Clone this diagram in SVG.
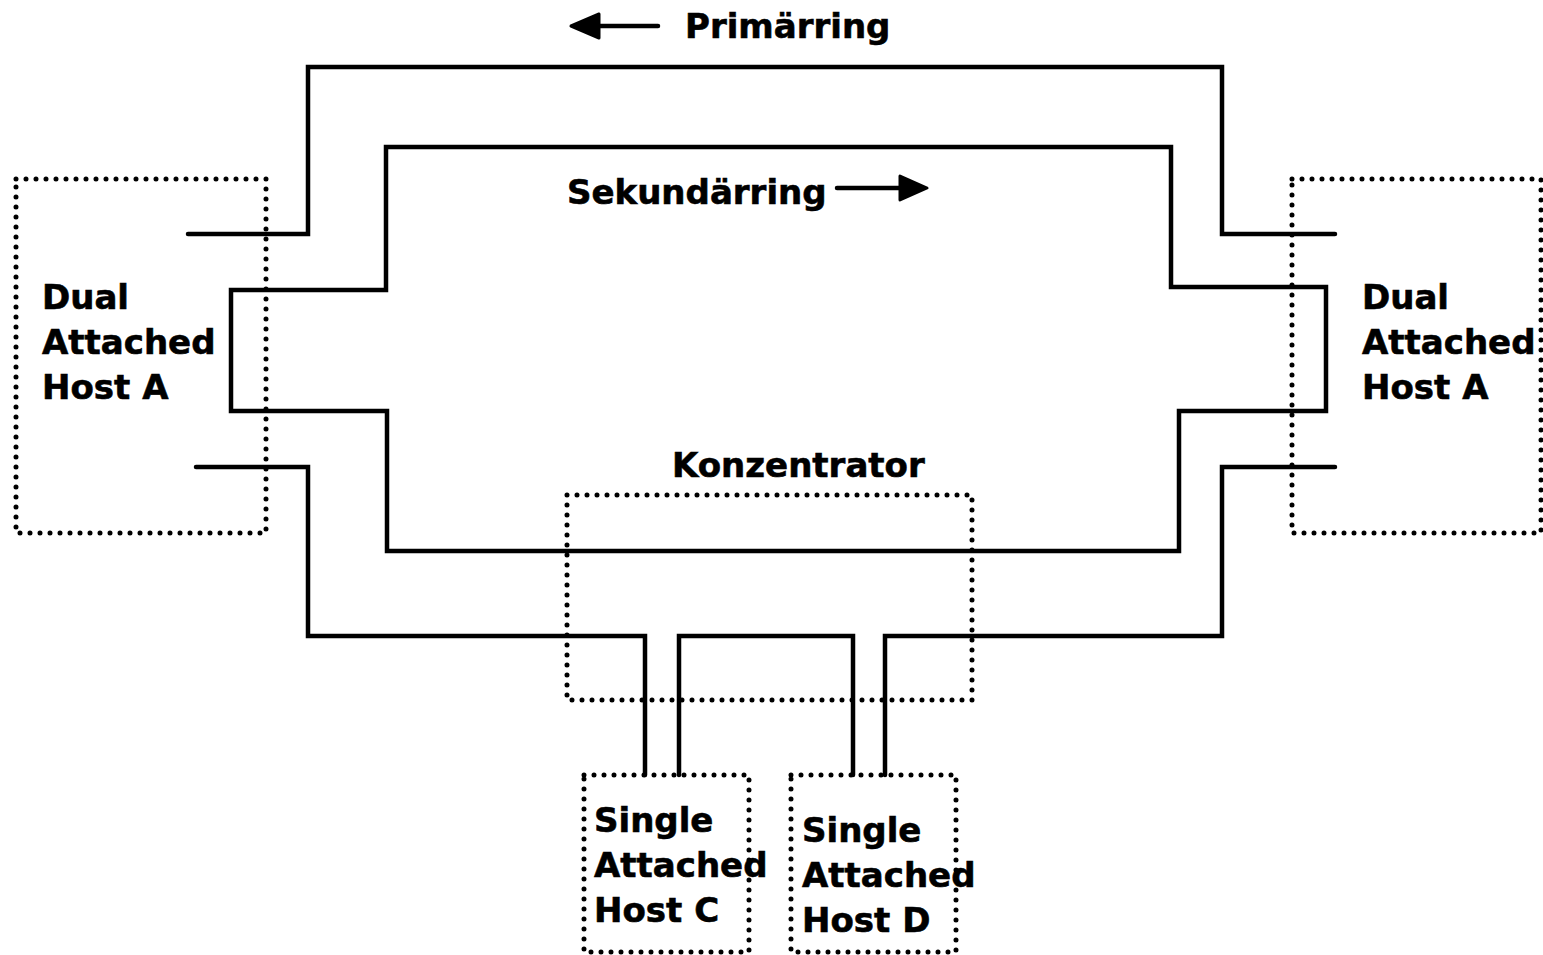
<svg xmlns="http://www.w3.org/2000/svg" width="1543" height="955" viewBox="0 0 1543 955">
<style>
.ring{fill:none;stroke:#000;stroke-width:4.5;stroke-linejoin:miter;stroke-linecap:round}
.box{fill:none;stroke:#000;stroke-width:5;stroke-dasharray:0 10;stroke-linecap:round}
.t{font-family:"DejaVu Sans",Verdana,sans-serif;font-weight:bold;font-size:34px;fill:#000;stroke:#000;stroke-width:0.6}
</style>
<rect width="1543" height="955" fill="#fff"/>
<g id="connectors">
<path class="ring" d="M188,234 H308 V67 H1222 V234 H1335"/>
<path class="ring" d="M196,467 H308 V636 H645 V775"/>
<path class="ring" d="M679,775 V636 H853 V775"/>
<path class="ring" d="M885,775 V636 H1222 V467 H1335"/>
<path class="ring" d="M386,147 H1171 V287 H1326 V411 H1179 V551 H387 V411 H231 V290 H386 Z"/>
<g id="arrow-primaer">
<line x1="658" y1="26" x2="596" y2="26" stroke="#000" stroke-width="4.5" stroke-linecap="round"/>
<path d="M571,26 L599,14 L599,38 Z" fill="#000" stroke="#000" stroke-width="3" stroke-linejoin="round"/>
</g>
<g id="arrow-sekundaer">
<line x1="837" y1="188" x2="902" y2="188" stroke="#000" stroke-width="4.5" stroke-linecap="round"/>
<path d="M927,188 L900,176 L900,200 Z" fill="#000" stroke="#000" stroke-width="3" stroke-linejoin="round"/>
</g>
</g>
<g id="label-primaer"><text class="t" x="685" y="38">Primärring</text></g>
<g id="label-sekundaer"><text class="t" x="567" y="204">Sekundärring</text></g>
<g id="host-a-left">
<rect class="box" x="16" y="179" width="250" height="354"/>
<text class="t" x="42" y="309">Dual</text>
<text class="t" x="42" y="354">Attached</text>
<text class="t" x="42" y="399">Host A</text>
</g>
<g id="host-a-right">
<rect class="box" x="1292" y="179" width="249" height="354"/>
<text class="t" x="1362" y="309">Dual</text>
<text class="t" x="1362" y="354">Attached</text>
<text class="t" x="1362" y="399">Host A</text>
</g>
<g id="konzentrator">
<rect class="box" x="567" y="495" width="405" height="205"/>
<text class="t" x="672" y="477">Konzentrator</text>
</g>
<g id="host-c">
<rect class="box" x="584" y="775" width="165" height="177"/>
<text class="t" x="594" y="832">Single</text>
<text class="t" x="594" y="877">Attached</text>
<text class="t" x="594" y="922">Host C</text>
</g>
<g id="host-d">
<rect class="box" x="791" y="775" width="165" height="177"/>
<text class="t" x="802" y="842">Single</text>
<text class="t" x="802" y="887">Attached</text>
<text class="t" x="802" y="932">Host D</text>
</g>
</svg>
